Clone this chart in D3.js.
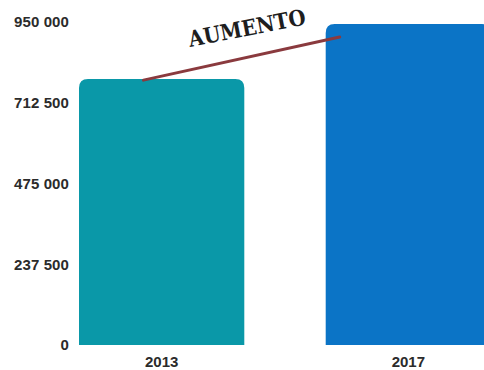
<!DOCTYPE html>
<html>
<head>
<meta charset="utf-8">
<script src="https://cdn.jsdelivr.net/npm/d3@7"></script>
<style>
  html, body { margin: 0; padding: 0; background: #fff; }
  svg { display: block; }
</style>
</head>
<body>
<div id="chart"></div>
<script>
// data
const years = ["2013", "2017"];
const values = [782000, 944000];
const tickValues = [0, 237500, 475000, 712500, 950000];
const colors = ["#0a98a8", "#0b74c6"];
const annotation = "AUMENTO";

const width = 484;
const height = 370;

const svg = d3.select("#chart")
    .append("svg")
    .attr("width", width)
    .attr("height", height);

const x = d3.scaleBand()
    .domain(years)
    .range([79, 491])
    .paddingInner(0.33)
    .paddingOuter(0);

const y = d3.scaleLinear()
    .domain([0, 950000])
    .range([345, 22]);

const locale = d3.formatLocale({ decimal: ",", thousands: " ", grouping: [3], currency: ["", ""] });
const fmt = locale.format(",");

// bars with rounded top corners
const r = 9;
function topRounded(x0, y0, w, h) {
    return `M${x0},${y0 + h}V${y0 + r}Q${x0},${y0} ${x0 + r},${y0}H${x0 + w - r}Q${x0 + w},${y0} ${x0 + w},${y0 + r}V${y0 + h}Z`;
}

svg.selectAll("path.bar")
    .data(years)
    .enter()
    .append("path")
    .attr("class", "bar")
    .attr("d", (d, i) => topRounded(x(d), y(values[i]), x.bandwidth(), y(0) - y(values[i])))
    .attr("fill", (d, i) => colors[i]);

// y axis labels
const yAxis = d3.axisLeft(y)
    .tickValues(tickValues)
    .tickFormat(fmt)
    .tickSize(0)
    .tickPadding(0);

const yg = svg.append("g")
    .attr("transform", "translate(69,0)")
    .call(yAxis);
yg.select(".domain").remove();
yg.selectAll("text")
    .style("font-family", "'Liberation Sans', Arial, sans-serif")
    .style("font-weight", "bold")
    .style("font-size", "15px")
    .style("letter-spacing", "0.1px")
    .style("fill", "#2b2b2b");

// x axis labels
const xAxis = d3.axisBottom(x).tickSize(0).tickPadding(0);
const xg = svg.append("g")
    .attr("transform", "translate(0,356)")
    .call(xAxis);
xg.select(".domain").remove();
xg.selectAll("text")
    .attr("dy", "0.71em")
    .style("font-family", "'Liberation Sans', Arial, sans-serif")
    .style("font-weight", "bold")
    .style("font-size", "15px")
    .style("fill", "#2b2b2b");

// annotation line between bars
const x1 = x(years[0]) + x.bandwidth() * 0.39;
const y1 = y(values[0]) + 1;
const x2 = x(years[1]) + 14;
const y2 = y(values[1]) + 13;
svg.append("line")
    .attr("x1", x1).attr("y1", y1)
    .attr("x2", x2).attr("y2", y2)
    .attr("stroke", "#8a3a3e")
    .attr("stroke-width", 3)
    .attr("stroke-linecap", "round");

svg.append("text")
    .attr("transform", "translate(190,47) rotate(-11)")
    .attr("textLength", 119)
    .attr("lengthAdjust", "spacingAndGlyphs")
    .style("font-family", "'DejaVu Serif', serif")
    .style("font-weight", "bold")
    .style("font-size", "22px")
    .style("fill", "#1e1e1e")
    .text(annotation);
</script>
</body>
</html>
